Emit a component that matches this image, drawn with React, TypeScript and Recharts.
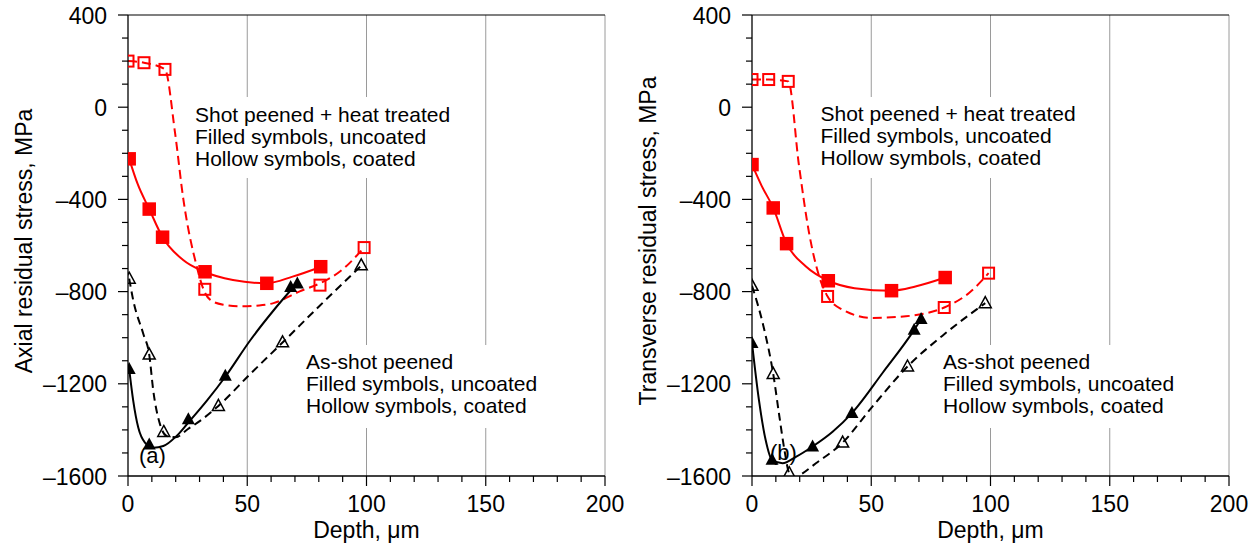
import React from 'react';
import { ComposedChart, Line, Scatter, XAxis, YAxis, ReferenceLine } from 'recharts';

type Pt = { x: number; y: number };

// ---------- axes ----------
const xTickValues = [0, 10, 20, 30, 40, 50, 60, 70, 80, 90, 100, 110, 120, 130, 140, 150, 160, 170, 180, 190, 200];
const yTickValues = [-1600, -1500, -1400, -1300, -1200, -1100, -1000, -900, -800, -700, -600, -500, -400, -300, -200, -100, 0, 100, 200, 300, 400];
const xMajorTicks = [0, 50, 100, 150, 200];
const yMajorTicks = [-1600, -1200, -800, -400, 0, 400];
const xGridLines = [50, 100, 150, 200];

// ---------- (a) axial: markers ----------
const axialHtUncoated: Pt[] = [
  { x: 0.5, y: -224 }, { x: 8.9, y: -442 }, { x: 14.5, y: -564 }, { x: 32.3, y: -714 }, { x: 58.2, y: -764 }, { x: 80.8, y: -692 },
];
const axialHtCoated: Pt[] = [
  { x: 0, y: 200 }, { x: 6.7, y: 193 }, { x: 15.5, y: 164 }, { x: 32.2, y: -790 }, { x: 80.5, y: -772 }, { x: 99, y: -609 },
];
const axialAsUncoated: Pt[] = [
  { x: 0.5, y: -1136 }, { x: 8.9, y: -1463 }, { x: 25.3, y: -1354 }, { x: 40.8, y: -1165 }, { x: 68.2, y: -780 }, { x: 71, y: -765 },
];
const axialAsCoated: Pt[] = [
  { x: 0.5, y: -744 }, { x: 8.9, y: -1073 }, { x: 15, y: -1409 }, { x: 37.9, y: -1296 }, { x: 64.8, y: -1020 }, { x: 97.8, y: -686 },
];

// ---------- (a) axial: fitted curves ----------
const axialHtUncoatedCurve: Pt[] = [
  { x: 0.5, y: -224 }, { x: 4, y: -332 }, { x: 8.9, y: -442 }, { x: 14.5, y: -564 }, { x: 23, y: -662 }, { x: 32, y: -714 },
  { x: 44, y: -750 }, { x: 58, y: -764 }, { x: 69, y: -735 }, { x: 81, y: -692 },
];
const axialHtCoatedCurve: Pt[] = [
  { x: 0, y: 200 }, { x: 6.7, y: 193 }, { x: 15.5, y: 164 }, { x: 19.7, y: -109 }, { x: 23.2, y: -399 }, { x: 28.8, y: -690 },
  { x: 31.6, y: -789 }, { x: 34.4, y: -835 }, { x: 40, y: -857 }, { x: 47, y: -864 }, { x: 55, y: -860 }, { x: 61, y: -850 },
  { x: 72, y: -799 }, { x: 80.5, y: -764 }, { x: 89, y: -712 }, { x: 99, y: -609 },
];
const axialAsUncoatedCurve: Pt[] = [
  { x: 0.5, y: -1136 }, { x: 2.2, y: -1274 }, { x: 4.3, y: -1390 }, { x: 7.1, y: -1455 }, { x: 10.6, y: -1477 }, { x: 14.8, y: -1470 },
  { x: 20.4, y: -1426 }, { x: 25.3, y: -1368 }, { x: 33, y: -1274 }, { x: 41.1, y: -1165 }, { x: 51.2, y: -1012 }, { x: 61, y: -882 },
  { x: 70.7, y: -765 },
];
const axialAsCoatedCurve: Pt[] = [
  { x: 0.5, y: -744 }, { x: 2.2, y: -838 }, { x: 6.4, y: -983 }, { x: 8.9, y: -1073 }, { x: 10.6, y: -1230 }, { x: 13.4, y: -1375 },
  { x: 16.2, y: -1426 }, { x: 20, y: -1432 }, { x: 25, y: -1397 }, { x: 30.2, y: -1361 }, { x: 37.9, y: -1296 }, { x: 51.2, y: -1158 },
  { x: 64.9, y: -1020 }, { x: 80.5, y: -860 }, { x: 98, y: -686 },
];

// ---------- (b) transverse: markers ----------
const transHtUncoated: Pt[] = [
  { x: 0, y: -249 }, { x: 8.9, y: -437 }, { x: 14.5, y: -592 }, { x: 32, y: -753 }, { x: 58.5, y: -796 }, { x: 81, y: -739 },
];
const transHtCoated: Pt[] = [
  { x: 0, y: 120 }, { x: 7, y: 120 }, { x: 15.2, y: 112 }, { x: 31.7, y: -821 }, { x: 80.6, y: -869 }, { x: 99.2, y: -720 },
];
const transAsUncoated: Pt[] = [
  { x: 0, y: -1023 }, { x: 8.4, y: -1530 }, { x: 25.4, y: -1472 }, { x: 41.9, y: -1327 }, { x: 68, y: -966 }, { x: 70.9, y: -919 },
];
const transAsCoated: Pt[] = [
  { x: 0, y: -775 }, { x: 8.9, y: -1157 }, { x: 15.6, y: -1588 }, { x: 38, y: -1455 }, { x: 65.2, y: -1125 }, { x: 97.8, y: -850 },
];

// ---------- (b) transverse: fitted curves ----------
const transHtUncoatedCurve: Pt[] = [
  { x: 0, y: -249 }, { x: 4, y: -340 }, { x: 8.9, y: -437 }, { x: 14.5, y: -592 }, { x: 22.5, y: -690 }, { x: 32, y: -753 },
  { x: 43, y: -785 }, { x: 58.5, y: -796 }, { x: 68.5, y: -778 }, { x: 81, y: -739 },
];
const transHtCoatedCurve: Pt[] = [
  { x: 0, y: 120 }, { x: 7, y: 120 }, { x: 15.2, y: 112 }, { x: 19.7, y: -253 }, { x: 23.9, y: -544 }, { x: 28.1, y: -732 },
  { x: 31.7, y: -821 }, { x: 37.9, y: -878 }, { x: 50.4, y: -914 }, { x: 64.5, y: -907 }, { x: 80.6, y: -869 }, { x: 91, y: -806 },
  { x: 99.2, y: -720 },
];
const transAsUncoatedCurve: Pt[] = [
  { x: 0, y: -1023 }, { x: 2.9, y: -1270 }, { x: 5.7, y: -1443 }, { x: 8.4, y: -1530 }, { x: 12.8, y: -1545 }, { x: 18.4, y: -1517 },
  { x: 25.4, y: -1472 }, { x: 33.8, y: -1408 }, { x: 41.9, y: -1327 }, { x: 54.8, y: -1152 }, { x: 68, y: -966 }, { x: 70.9, y: -919 },
];
const transAsCoatedCurve: Pt[] = [
  { x: 0, y: -775 }, { x: 4.8, y: -950 }, { x: 8.9, y: -1157 }, { x: 11.5, y: -1343 }, { x: 13.6, y: -1487 }, { x: 15.6, y: -1588 },
  { x: 18, y: -1610 }, { x: 21, y: -1590 }, { x: 26.8, y: -1545 }, { x: 38, y: -1455 }, { x: 50.4, y: -1300 }, { x: 65.2, y: -1125 },
  { x: 81.2, y: -980 }, { x: 97.8, y: -850 },
];

// ---------- text ----------
const xTitle = 'Depth, μm';
const yTitleA = 'Axial residual stress, MPa';
const yTitleB = 'Transverse residual stress, MPa';
const noteHt = ['Shot peened + heat treated', 'Filled symbols, uncoated', 'Hollow symbols, coated'];
const noteAs = ['As-shot peened', 'Filled symbols, uncoated', 'Hollow symbols, coated'];

// ---------- style ----------
const FONT = '"Liberation Sans", Arial, Helvetica, sans-serif';
const RED = '#ff0000';
const BLACK = '#000000';
const GRID = '#9a9a9a';
const TICK_FONT = 23;
const NOTE_FONT = 21;
const CH_W = 630;
const CH_H = 547;
const RIGHT_OFFSET = 624;
const Y_TICK_SIZE = 10;
const Y_TICK_MARGIN = 11;
const X_TICK_SIZE = 10;
const X_TICK_MARGIN = 4;

const fmtY = (v: number) => (v < 0 ? '\u2013' + Math.abs(v) : String(v));

const YTick = (props: any) => {
  const { x, y, payload } = props;
  const v = payload.value as number;
  const axisX = x + Y_TICK_SIZE + Y_TICK_MARGIN;
  const major = yMajorTicks.includes(v);
  return (
    <g>
      <line x1={axisX - (major ? 10 : 6)} x2={axisX} y1={y} y2={y} stroke={BLACK} strokeWidth={1.2} />
      {major && (
        <text x={x} y={y + 8.5} textAnchor="end" fontSize={TICK_FONT} fontFamily={FONT} fill={BLACK}>
          {fmtY(v)}
        </text>
      )}
    </g>
  );
};

const XTick = (props: any) => {
  const { x, y, payload } = props;
  const v = payload.value as number;
  const axisY = y - X_TICK_SIZE - X_TICK_MARGIN;
  const major = xMajorTicks.includes(v);
  return (
    <g>
      <line x1={x} x2={x} y1={axisY} y2={axisY + (major ? 10 : 6)} stroke={BLACK} strokeWidth={1.2} />
      {major && (
        <text x={x} y={axisY + 36} textAnchor="middle" fontSize={TICK_FONT} fontFamily={FONT} fill={BLACK}>
          {v}
        </text>
      )}
    </g>
  );
};

const FilledSquare = (p: any) => <rect x={p.cx - 6.75} y={p.cy - 6.75} width={13.5} height={13.5} fill={RED} />;
const HollowSquare = (p: any) => (
  <rect x={p.cx - 5.5} y={p.cy - 5.5} width={11} height={11} fill="none" stroke={RED} strokeWidth={2} />
);
const FilledTri = (p: any) => (
  <polygon points={`${p.cx},${p.cy - 7} ${p.cx + 6.5},${p.cy + 5} ${p.cx - 6.5},${p.cy + 5}`} fill={BLACK} />
);
const HollowTri = (p: any) => (
  <polygon
    points={`${p.cx},${p.cy - 6.5} ${p.cx + 6},${p.cy + 4.5} ${p.cx - 6},${p.cy + 4.5}`}
    fill="none"
    stroke={BLACK}
    strokeWidth={1.5}
  />
);

type PanelProps = {
  htU: Pt[]; htC: Pt[]; asU: Pt[]; asC: Pt[];
  htUc: Pt[]; htCc: Pt[]; asUc: Pt[]; asCc: Pt[];
};

const Panel = (p: PanelProps) => (
  <ComposedChart width={CH_W} height={CH_H} margin={{ top: 15, right: 25, bottom: 0, left: 48 }}>
    <XAxis
      dataKey="x"
      type="number"
      domain={[0, 200]}
      ticks={xTickValues}
      interval={0}
      allowDataOverflow
      height={71}
      tickSize={X_TICK_SIZE}
      tickMargin={X_TICK_MARGIN}
      tickLine={false}
      tick={<XTick />}
      axisLine={{ stroke: BLACK, strokeWidth: 1.3 }}
    />
    <YAxis
      dataKey="y"
      type="number"
      domain={[-1600, 400]}
      ticks={yTickValues}
      interval={0}
      allowDataOverflow
      width={80}
      tickSize={Y_TICK_SIZE}
      tickMargin={Y_TICK_MARGIN}
      tickLine={false}
      tick={<YTick />}
      axisLine={{ stroke: BLACK, strokeWidth: 1.3 }}
    />
    {xGridLines.map((g) => (
      <ReferenceLine key={g} x={g} stroke={GRID} strokeWidth={1} />
    ))}
    <ReferenceLine y={400} stroke={BLACK} strokeWidth={1.2} />
    <Line data={p.htUc} dataKey="y" type="monotone" stroke={RED} strokeWidth={2} dot={false} activeDot={false} isAnimationActive={false} />
    <Line data={p.htCc} dataKey="y" type="monotone" stroke={RED} strokeWidth={2} strokeDasharray="9 5" dot={false} activeDot={false} isAnimationActive={false} />
    <Line data={p.asUc} dataKey="y" type="monotone" stroke={BLACK} strokeWidth={2} dot={false} activeDot={false} isAnimationActive={false} />
    <Line data={p.asCc} dataKey="y" type="monotone" stroke={BLACK} strokeWidth={2} strokeDasharray="8 5" dot={false} activeDot={false} isAnimationActive={false} />
    <Scatter data={p.htU} dataKey="y" shape={FilledSquare} isAnimationActive={false} />
    <Scatter data={p.htC} dataKey="y" shape={HollowSquare} isAnimationActive={false} />
    <Scatter data={p.asU} dataKey="y" shape={FilledTri} isAnimationActive={false} />
    <Scatter data={p.asC} dataKey="y" shape={HollowTri} isAnimationActive={false} />
  </ComposedChart>
);

const Note = ({ x, y, lines, box }: { x: number; y: number; lines: string[]; box: [number, number, number, number] }) => (
  <g>
    <rect x={box[0]} y={box[1]} width={box[2]} height={box[3]} fill="#ffffff" />
    {lines.map((l, i) => (
      <text key={i} x={x} y={y + i * 22.4} fontSize={NOTE_FONT} fontFamily={FONT} fill={BLACK}>
        {l}
      </text>
    ))}
  </g>
);

export default function App() {
  return (
    <div style={{ position: 'absolute', left: 0, top: 0, width: 1260, height: 547, background: '#fff', overflow: 'hidden' }}>
      <div style={{ position: 'absolute', left: 0, top: 0 }}>
        <Panel
          htU={axialHtUncoated} htC={axialHtCoated} asU={axialAsUncoated} asC={axialAsCoated}
          htUc={axialHtUncoatedCurve} htCc={axialHtCoatedCurve} asUc={axialAsUncoatedCurve} asCc={axialAsCoatedCurve}
        />
      </div>
      <div style={{ position: 'absolute', left: RIGHT_OFFSET, top: 0 }}>
        <Panel
          htU={transHtUncoated} htC={transHtCoated} asU={transAsUncoated} asC={transAsCoated}
          htUc={transHtUncoatedCurve} htCc={transHtCoatedCurve} asUc={transAsUncoatedCurve} asCc={transAsCoatedCurve}
        />
      </div>
      <svg width={1260} height={547} style={{ position: 'absolute', left: 0, top: 0, pointerEvents: 'none' }}>
        <Note x={195} y={121.5} lines={noteHt} box={[189, 97, 272, 81]} />
        <Note x={306} y={368.5} lines={noteAs} box={[300, 345, 245, 83]} />
        <Note x={820.5} y={120.5} lines={noteHt} box={[814, 97, 272, 81]} />
        <Note x={943} y={368.5} lines={noteAs} box={[937, 345, 245, 83]} />
        <text x={139} y={463} fontSize={22} fontFamily={FONT} fill={BLACK}>(a)</text>
        <text x={770} y={460} fontSize={22} fontFamily={FONT} fill={BLACK}>(b)</text>
        <text transform="translate(32,241) rotate(-90)" textAnchor="middle" fontSize={TICK_FONT} fontFamily={FONT} fill={BLACK}>
          {yTitleA}
        </text>
        <text transform={`translate(${RIGHT_OFFSET + 32},241) rotate(-90)`} textAnchor="middle" fontSize={TICK_FONT} fontFamily={FONT} fill={BLACK}>
          {yTitleB}
        </text>
        <text x={366.5} y={538} textAnchor="middle" fontSize={TICK_FONT} fontFamily={FONT} fill={BLACK}>{xTitle}</text>
        <text x={RIGHT_OFFSET + 366.5} y={538} textAnchor="middle" fontSize={TICK_FONT} fontFamily={FONT} fill={BLACK}>{xTitle}</text>
      </svg>
    </div>
  );
}
